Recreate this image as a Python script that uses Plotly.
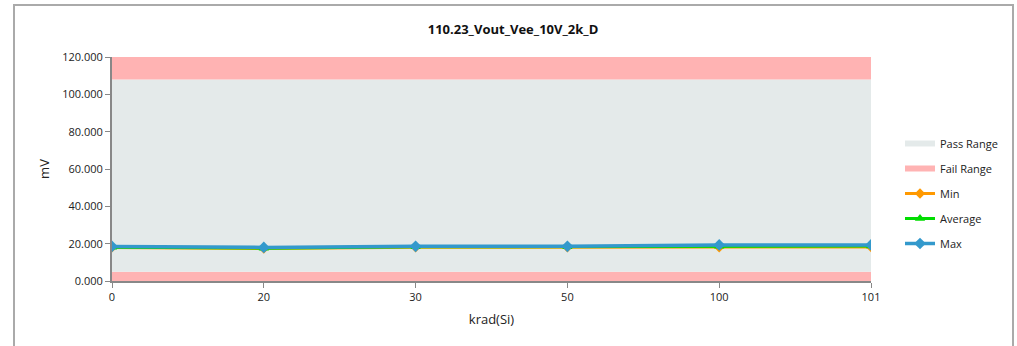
import plotly.graph_objects as go

categories = ["0", "20", "30", "50", "100", "101"]
min_vals = [18.0, 17.4, 18.1, 18.1, 18.1, 18.2]
avg_vals = [18.1, 17.6, 18.3, 18.3, 18.6, 18.7]
max_vals = [18.5, 18.0, 18.6, 18.6, 19.3, 19.3]
fail_low = [5.0] * 6
pass_band = [103.0] * 6
fail_high = [12.0] * 6
y_ticks = [0, 20, 40, 60, 80, 100, 120]

PASS = "#E4EAEA"
FAIL = "#FFB3B3"
FONT = "Open Sans"

fig = go.Figure()
fig.add_trace(go.Scatter(x=categories, y=fail_low, stackgroup="r", mode="none",
                         fillcolor=FAIL, name="Fail Range", showlegend=False, hoverinfo="skip",
                         legendgroup="f0"))
fig.add_trace(go.Scatter(x=categories, y=pass_band, stackgroup="r", mode="none",
                         fillcolor=PASS, name="Pass Range", legendrank=1, legendgroup="g1"))
fig.add_trace(go.Scatter(x=categories, y=fail_high, stackgroup="r", mode="none",
                         fillcolor=FAIL, name="Fail Range", legendrank=2, legendgroup="g2"))
fig.add_trace(go.Scatter(x=categories, y=min_vals, mode="lines+markers", name="Min",
                         line=dict(color="#FF9900", width=3),
                         marker=dict(symbol="diamond", size=8, color="#FF9900"), legendrank=3,
                         legendgroup="g3"))
fig.add_trace(go.Scatter(x=categories, y=avg_vals, mode="lines+markers", name="Average",
                         line=dict(color="#00DD00", width=3),
                         marker=dict(symbol="triangle-up", size=9, color="#00DD00"), legendrank=4,
                         legendgroup="g4"))
fig.add_trace(go.Scatter(x=categories, y=max_vals, mode="lines+markers", name="Max",
                         line=dict(color="#3399CC", width=3.5),
                         marker=dict(symbol="diamond", size=9, color="#3399CC"), legendrank=5,
                         legendgroup="g5"))

W, H = 1017, 346
L, T = 112, 57
pw, ph = 759, 224
R, B = W - L - pw, H - T - ph

fig.update_layout(
    width=W, height=H,
    margin=dict(l=L, r=R, t=T, b=B),
    paper_bgcolor="white", plot_bgcolor="white",
    font=dict(family=FONT, size=11, color="#222222"),
    title=dict(text="<b>110.23_Vout_Vee_10V_2k_D</b>", x=(513 - L) / pw, xref="paper",
               y=1 - 29 / H, yanchor="middle", xanchor="center",
               font=dict(size=13, family=FONT, color="#111111")),
    showlegend=True,
    legend=dict(x=(900 - L) / pw, y=(281 - 129) / ph, xanchor="left", yanchor="top",
                font=dict(size=11, family=FONT), tracegroupgap=6, itemwidth=30,
                traceorder="grouped", bgcolor="rgba(0,0,0,0)"),
    xaxis=dict(type="category", range=[0, 5], showgrid=False,
               showline=True, linecolor="#888888", linewidth=2,
               ticks="outside", ticklen=5, tickcolor="#888888",
               title=dict(text="krad(Si)", font=dict(size=13, family=FONT), standoff=12),
               tickfont=dict(size=11)),
    yaxis=dict(range=[0, 120], tickvals=y_ticks, tickformat=".3f", showgrid=False,
               showline=True, linecolor="#888888", linewidth=2,
               ticks="outside", ticklen=5, tickcolor="#888888",
               title=dict(text="mV", font=dict(size=13, family=FONT), standoff=10),
               tickfont=dict(size=11)),
    shapes=[dict(type="rect", xref="paper", yref="paper",
                 x0=(14 - L) / pw, x1=(1013 - L) / pw,
                 y0=(281 - 360) / ph, y1=(281 - 5) / ph,
                 line=dict(color="#AAAAAA", width=2), fillcolor="rgba(0,0,0,0)", layer="below")],
)

fig.write_html("out.html", config={"displayModeBar": False},
               post_script="document.body.style.margin='0';document.body.style.overflow='hidden';")
